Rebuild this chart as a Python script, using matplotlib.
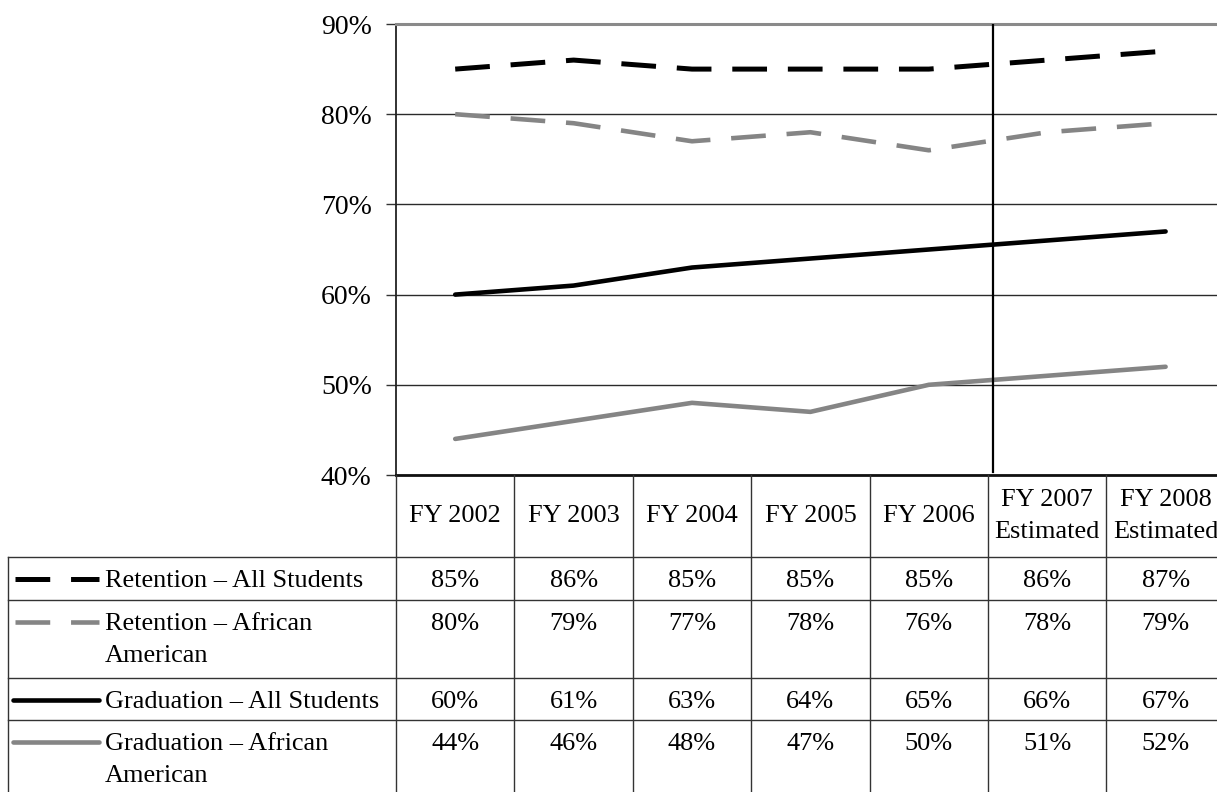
import matplotlib
matplotlib.use("Agg")
import matplotlib.pyplot as plt
from matplotlib.ticker import FixedLocator, FuncFormatter

plt.rcParams["font.family"] = ["Liberation Serif", "DejaVu Serif"]
plt.rcParams["lines.scale_dashes"] = False

# ---- data ----
years = ["FY 2002", "FY 2003", "FY 2004", "FY 2005", "FY 2006",
         "FY 2007\nEstimated", "FY 2008\nEstimated"]
series_names = ["Retention – All Students",
                "Retention – African\nAmerican",
                "Graduation – All Students",
                "Graduation – African\nAmerican"]
retention_all = [85, 86, 85, 85, 85, 86, 87]
retention_aa = [80, 79, 77, 78, 76, 78, 79]
graduation_all = [60, 61, 63, 64, 65, 66, 67]
graduation_aa = [44, 46, 48, 47, 50, 51, 52]
y_ticks = [40, 50, 60, 70, 80, 90]

# ---- styles ----
GRAY = "#858585"
DASH = (0, (25, 15))
styles = [
    dict(color="black", lw=3.6, linestyle=DASH, dash_capstyle="butt"),
    dict(color=GRAY, lw=3.3, linestyle=DASH, dash_capstyle="butt"),
    dict(color="black", lw=3.3, linestyle="-", solid_capstyle="round"),
    dict(color=GRAY, lw=3.3, linestyle="-", solid_capstyle="round"),
]
all_series = [retention_all, retention_aa, graduation_all, graduation_aa]

W, H = 1217, 792
fig = plt.figure(figsize=(W / 100, H / 100), dpi=100)

# plot area in pixel terms
px_left, px_top, px_bottom = 396, 24, 475
col_w = 118.4
n = len(years)
ax = fig.add_axes([px_left / W, (H - px_bottom) / H,
                   n * col_w / W, (px_bottom - px_top) / H])

x = list(range(n))
for vals, st in zip(all_series, styles):
    ax.plot(x, vals, zorder=3, **st)

ax.set_xlim(-0.5, n - 0.5)
ax.set_ylim(40, 90)
ax.yaxis.set_major_locator(FixedLocator(y_ticks))
ax.yaxis.set_major_formatter(FuncFormatter(lambda v, p: f"{v:.0f}%"))
ax.set_xticks([])
ax.tick_params(axis="y", length=7.5, width=1.0, pad=10, labelsize=20,
               color="#333333")
ax.set_axisbelow(True)
ax.grid(axis="y", color="#2a2a2a", lw=1.0)
ax.spines["right"].set_visible(False)
ax.spines["top"].set_color("#8a8a8a")
ax.spines["top"].set_linewidth(2.2)
ax.spines["left"].set_color("#222222")
ax.spines["left"].set_linewidth(1.3)
ax.spines["bottom"].set_color("#111111")
ax.spines["bottom"].set_linewidth(2.0)

# divider between actual and estimated years
divider_x = 4.54
ax.axvline(divider_x, ymin=0.006, ymax=1, color="black", lw=1.6, zorder=4)

# ---- data table below the plot, drawn in pixel coordinates ----
tab = fig.add_axes([0, 0, 1, 1], facecolor="none")
tab.set_xlim(0, W)
tab.set_ylim(H, 0)
tab.axis("off")

def col_px(i):
    return ax.transData.transform((i, 0))[0]

fs = 18.9
line_gap = 32.5
header_mid = 516
row_tops = [557, 600, 678, 720]
table_left = 8
grid_kw = dict(color="#333333", lw=1.0)

# horizontal rules
for yt in row_tops:
    tab.plot([table_left, W], [yt, yt], **grid_kw)
# vertical rules
tab.plot([table_left, table_left], [row_tops[0], H], **grid_kw)
for i in range(n):
    xb = col_px(i - 0.5)
    tab.plot([xb, xb], [px_bottom, H], **grid_kw)

# header labels
for i, lab in enumerate(years):
    lines = lab.split("\n")
    y0 = header_mid - (len(lines) - 1) * line_gap / 2
    for k, ln in enumerate(lines):
        tab.text(col_px(i), y0 + k * line_gap, ln, ha="center",
                 va="center", fontsize=fs)

# legend samples, series labels and values
for r, (name, vals, st) in enumerate(zip(series_names, all_series, styles)):
    yc = row_tops[r] + 24
    is_dashed = st["linestyle"] != "-"
    x0 = 15 if is_dashed else 13
    tab.plot([x0, 99], [yc - 2, yc - 2], **st)
    for k, ln in enumerate(name.split("\n")):
        tab.text(105, yc + k * line_gap, ln, ha="left", va="center",
                 fontsize=fs)
    for i, v in enumerate(vals):
        tab.text(col_px(i), yc, f"{v}%", ha="center", va="center",
                 fontsize=fs)

fig.savefig("out.png", dpi=100)
